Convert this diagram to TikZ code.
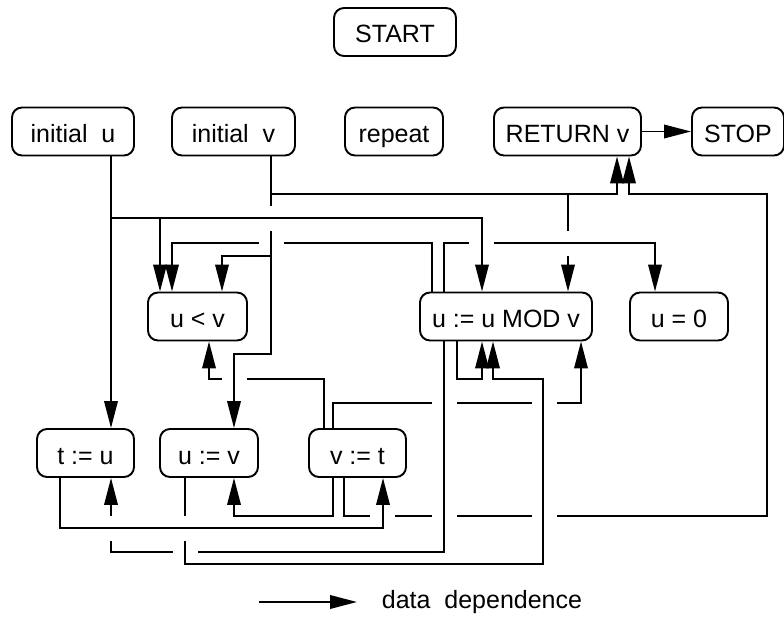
\documentclass[tikz,border=0pt]{standalone}
\usepackage{fontspec}
\setmainfont{Liberation Sans}
\usetikzlibrary{arrows.meta}
\tikzset{
  stmt/.style={draw, line width=1.9pt, rounded corners=10pt, inner sep=0pt,
    minimum height=48pt, text height=22pt, text depth=0pt,
    font=\fontsize{25}{30}\selectfont},
  dep/.style={line width=1.9pt, -{Triangle[length=27pt,width=13.5pt]}},
  gapcut/.style={fill=white, draw=none}
}
\newcommand{\gapH}[2]{\fill[gapcut] (#1-12.5,#2-3.2) rectangle (#1+12.5,#2+3.2);}
\newcommand{\gapV}[2]{\fill[gapcut] (#1-3.2,#2-12.5) rectangle (#1+3.2,#2+12.5);}
\begin{document}
\begin{tikzpicture}[x=1pt,y=-1pt]
\useasboundingbox (0,0) rectangle (784,623);
% nodes
\node[stmt, minimum width=122pt] (start) at (395,32) {START};
\node[stmt, minimum width=122pt] (initU) at (73,131.5) {initial\ \ u};
\node[stmt, minimum width=123pt] (initV) at (233.5,131.5) {initial\ \ v};
\node[stmt, minimum width=98pt]  (rep)   at (394,131.5) {repeat};
\node[stmt, minimum width=147pt] (ret)   at (567.5,131.5) {RETURN v};
\node[stmt, minimum width=92pt]  (stop)  at (738,131.5) {STOP};
\node[stmt, minimum width=99pt]  (ulv)   at (197.5,316.5) {u < v};
\node[stmt, minimum width=172pt] (mod)   at (506,316.5) {u := u MOD v};
\node[stmt, minimum width=98pt]  (uz)    at (679,316.5) {u = 0};
\node[stmt, minimum width=97pt]  (tu)    at (85.5,453) {t := u};
\node[stmt, minimum width=98pt]  (uv)    at (209,453) {u := v};
\node[stmt, minimum width=97pt]  (vt)    at (357.5,453) {v := t};

% --- lines that are interrupted ---
\draw[dep] (vt.north -| 324,0) |- (209,379) -- (ulv.south -| 209,0);
\gapH{234}{379}
\draw[dep] (vt.north -| 333,0) |- (581,403) -- (mod.south -| 581,0);
\draw[dep] (vt.south -| 344,0) |- (767,516) |- (629,194) -- (ret.south -| 629,0);
\gapH{444.5}{403}\gapH{544}{403}
\gapH{382.5}{516}\gapH{444.5}{516}\gapH{544}{516}
\draw[dep] (mod.north -| 432,0) |- (172,243) -- (ulv.north -| 172,0);
\gapH{271.5}{243}

% initial v
\draw[dep] (initV.south -| 271,0) |- (617,194) -- (ret.south -| 617,0);
\draw[dep] (initV.south -| 271,0) |- (568,194) -- (mod.north -| 568,0);
\draw[dep] (initV.south -| 271,0) |- (222,256) -- (ulv.north -| 222,0);
\draw[dep] (initV.south -| 271,0) |- (234,354) -- (uv.north -| 234,0);
\gapV{271}{218}\gapV{568}{243}

\draw[dep] (mod.north -| 444,0) |- (655,243) -- (uz.north -| 655,0);
\gapH{481}{243}

% initial u
\draw[dep] (initU.south -| 111,0) -- (tu.north -| 111,0);
\draw[dep] (initU.south -| 111,0) |- (160,218) -- (ulv.north -| 160,0);
\draw[dep] (initU.south -| 111,0) |- (482,218) -- (mod.north -| 482,0);

% MOD -> t := u
\draw[dep] (mod.south -| 444,0) |- (111,552) -- (tu.south -| 111,0);
\gapV{111}{528}\gapH{185.5}{552}
% u := v -> MOD
\draw[dep] (uv.south -| 185,0) |- (543,564) |- (493,379) -- (mod.south -| 493,0);
\gapV{185}{528}
% t := u -> v := t
\draw[dep] (tu.south -| 60,0) |- (383,528) -- (vt.south -| 383,0);

% others
\draw[dep] (mod.south -| 457,0) |- (482,379) -- (mod.south -| 482,0);
\draw[dep] (vt.south -| 333,0) |- (234,516) -- (uv.south -| 234,0);
\draw[dep] (ret.east) -- (stop.west);

% legend
\coordinate (legA) at (259,602);
\coordinate (legB) at (357,602);
\draw[dep] (legA) -- (legB);
\node[font=\fontsize{25}{30}\selectfont, inner sep=0pt] (legT) at (482,602) {data\ \ dependence};
\end{tikzpicture}
\end{document}
